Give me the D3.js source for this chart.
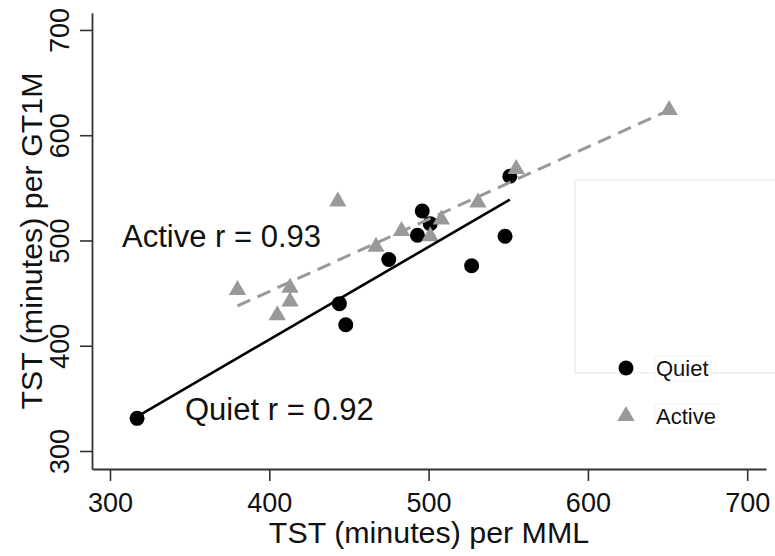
<!DOCTYPE html>
<html>
<head>
<meta charset="utf-8">
<script src="https://cdn.jsdelivr.net/npm/d3@7"></script>
<style>
  body { margin: 0; background: #fff; }
  text { font-family: "Liberation Sans", Arial, sans-serif; fill: #111; }
</style>
</head>
<body>
<svg id="chart" width="775" height="556"></svg>
<script>
// data
const quietX  = [317, 444, 448, 475, 493, 496, 501, 527, 548, 551];
const quietY  = [331, 440, 420, 482, 505, 528, 516, 476, 504, 561];
const activeX = [380, 405, 413, 413, 443, 467, 483, 501, 508, 531, 555, 651];
const activeY = [453, 429, 455, 442, 537, 494, 509, 504, 520, 536, 568, 624];
const xTicks = [300, 400, 500, 600, 700];
const yTicks = [300, 400, 500, 600, 700];
const seriesNames = ["Quiet", "Active"];
const rLabels = ["Quiet r = 0.92", "Active r = 0.93"];

const svg = d3.select("#chart");

const x = d3.scaleLinear().domain([288.7, 711.8]).range([92, 766]);
const y = d3.scaleLinear().domain([282.9, 716.4]).range([469, 12.7]);

// simple least squares fit
function fit(xs, ys) {
  const mx = d3.mean(xs), my = d3.mean(ys);
  let sxy = 0, sxx = 0;
  xs.forEach((v, i) => { sxy += (v - mx) * (ys[i] - my); sxx += (v - mx) * (v - mx); });
  const b = sxy / sxx;
  const x0 = d3.min(xs), x1 = d3.max(xs);
  return [[x0, my + b * (x0 - mx)], [x1, my + b * (x1 - mx)]];
}

const quiet = quietX.map((v, i) => [v, quietY[i]]);
const active = activeX.map((v, i) => [v, activeY[i]]);

// legend frame (faint)
svg.append("rect")
  .attr("x", 575).attr("y", 180)
  .attr("width", 230).attr("height", 193)
  .attr("fill", "none")
  .attr("stroke", "#eeeeee")
  .attr("stroke-width", 1.5);

// axes
const xAxis = svg.append("g")
  .attr("transform", "translate(0,469)")
  .call(d3.axisBottom(x).tickValues(xTicks).tickSize(12).tickSizeOuter(0).tickPadding(12));
const yAxis = svg.append("g")
  .attr("transform", "translate(92,0)")
  .call(d3.axisLeft(y).tickValues(yTicks).tickSize(12).tickSizeOuter(0));

[xAxis, yAxis].forEach(g => {
  g.select(".domain").attr("stroke", "#333").attr("stroke-width", 1.8);
  g.selectAll(".tick line").attr("stroke", "#333").attr("stroke-width", 1.6);
  g.selectAll(".tick text").attr("font-size", 27).attr("fill", "#111")
    .attr("font-family", "Liberation Sans, Arial, sans-serif");
});
xAxis.selectAll(".tick text").attr("dy", "0.71em").attr("y", 24);
yAxis.selectAll(".tick text")
  .attr("x", null).attr("dy", null)
  .attr("text-anchor", "middle")
  .attr("transform", "translate(-23.5,0) rotate(-90)");

// axis titles
svg.append("text")
  .attr("x", 429).attr("y", 543)
  .attr("text-anchor", "middle")
  .attr("font-size", 30.4)
  .text("TST (minutes) per MML");
svg.append("text")
  .attr("transform", "translate(42,241) rotate(-90)")
  .attr("text-anchor", "middle")
  .attr("font-size", 30.4)
  .text("TST (minutes) per GT1M");

// points
svg.append("g").selectAll("circle")
  .data(quiet)
  .join("circle")
  .attr("cx", d => x(d[0]))
  .attr("cy", d => y(d[1]))
  .attr("r", 7.5)
  .attr("fill", "#000");

const tri = d3.symbol().type(d3.symbolTriangle).size(130);
svg.append("g").selectAll("path")
  .data(active)
  .join("path")
  .attr("transform", d => `translate(${x(d[0])},${y(d[1])})`)
  .attr("d", tri)
  .attr("fill", "#999");

// fitted lines
const line = d3.line().x(d => x(d[0])).y(d => y(d[1]));
svg.append("path")
  .datum(fit(quietX, quietY))
  .attr("d", line)
  .attr("fill", "none")
  .attr("stroke", "#000")
  .attr("stroke-width", 2.6);
svg.append("path")
  .datum(fit(activeX, activeY))
  .attr("d", line)
  .attr("fill", "none")
  .attr("stroke", "#999")
  .attr("stroke-width", 3)
  .attr("stroke-dasharray", "14,8");

// r annotations
svg.append("text").attr("x", 185).attr("y", 420).attr("font-size", 31).text(rLabels[0]);
svg.append("text").attr("x", 122).attr("y", 247).attr("font-size", 31).text(rLabels[1]);

// legend
const leg = svg.append("g");
const legY = [368, 416];
seriesNames.forEach((name, i) => {
  const g = leg.append("g");
  if (i === 0) {
    g.append("circle").attr("cx", 626).attr("cy", legY[i]).attr("r", 7.5).attr("fill", "#000");
  } else {
    g.append("path").attr("transform", `translate(626,${legY[i]})`).attr("d", tri).attr("fill", "#999");
  }
  const t = g.append("text")
    .attr("x", 656).attr("y", legY[i] + 8)
    .attr("font-size", 22)
    .text(name);
  const bb = t.node().getBBox();
  g.insert("rect", "text")
    .attr("x", bb.x - 1).attr("y", bb.y)
    .attr("width", bb.width + 3).attr("height", bb.height)
    .attr("fill", "#fff").attr("stroke", "#f2f2f2");
});
</script>
</body>
</html>
